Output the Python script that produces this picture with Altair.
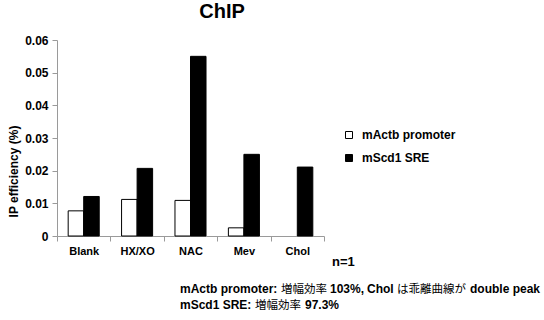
import altair as alt
import pandas as pd

categories = ["Blank", "HX/XO", "NAC", "Mev", "Chol"]
series = ["mActb promoter", "mScd1 SRE"]
actb_values = [0.0077, 0.0112, 0.0109, 0.0025, None]
scd1_values = [0.0121, 0.0207, 0.0550, 0.0250, 0.0211]
y_ticks = [0, 0.01, 0.02, 0.03, 0.04, 0.05, 0.06]

rows = []
for c, a, s in zip(categories, actb_values, scd1_values):
    rows.append({"category": c, "series": series[0], "value": a})
    rows.append({"category": c, "series": series[1], "value": s})
df = pd.DataFrame(rows)

LATIN = "Liberation Sans"
CJK = "Noto Sans CJK JP"
AXIS_GREY = "#9a9a9a"

bars = alt.Chart(df).mark_bar(stroke="black", strokeWidth=1).encode(
    x=alt.X(
        "category:N",
        sort=categories,
        scale=alt.Scale(paddingInner=0, paddingOuter=0),
        axis=alt.Axis(
            title=None, labelAngle=0, tickBand="extent", tickSize=5,
            domainColor=AXIS_GREY, tickColor=AXIS_GREY,
            labelFont=LATIN, labelFontSize=11, labelFontWeight="bold",
            labelColor="black", labelPadding=4,
        ),
    ),
    xOffset=alt.XOffset(
        "series:N", sort=series,
        scale=alt.Scale(paddingInner=0, paddingOuter=0.72),
    ),
    y=alt.Y(
        "value:Q",
        scale=alt.Scale(domain=[0, 0.06], nice=False),
        axis=alt.Axis(
            values=y_ticks, grid=False, tickSize=5,
            domainColor=AXIS_GREY, tickColor=AXIS_GREY,
            labelExpr="datum.value == 0 ? '0' : format(datum.value, '.2f')",
            labelFont=LATIN, labelFontSize=12, labelFontWeight="bold",
            labelColor="black", labelPadding=4,
            title="IP efficiency (%)", titleFont=LATIN, titleFontSize=12,
            titleFontWeight="bold", titleColor="black",
            titleX=-40, titleY=131, titleBaseline="alphabetic", titleAlign="center",
            titleAngle=270,
        ),
    ),
    color=alt.Color(
        "series:N", sort=series,
        scale=alt.Scale(domain=series, range=["white", "black"]),
        legend=alt.Legend(
            title=None, orient="none", legendX=286, legendY=89, padding=0,
            symbolType="square", symbolSize=49, symbolStrokeColor="black",
            symbolStrokeWidth=1, labelFont=LATIN, labelFontSize=12,
            labelFontWeight="bold", labelColor="black", labelOffset=7,
            rowPadding=11,
        ),
    ),
)


def seg(text, x, y, size, weight, font, align="left"):
    return alt.Chart(pd.DataFrame({"t": [text]})).mark_text(
        align=align, baseline="alphabetic", font=font, fontSize=size,
        fontWeight=weight, color="black",
    ).encode(text="t:N", x=alt.value(x), y=alt.value(y))


texts = [
    seg("ChIP", 165, -22, 20, "bold", LATIN, align="center"),
    seg("n=1", 275, 226, 13, "bold", LATIN),
    seg("mActb promoter:", 123, 253, 12, "bold", LATIN),
    seg("増幅効率", 224, 253, 11.5, "normal", CJK),
    seg("103%,", 273, 253, 12, "bold", LATIN),
    seg("Chol", 310, 253, 12, "bold", LATIN),
    seg("は乖離曲線が", 340, 253, 11.5, "normal", CJK),
    seg("double peak", 413, 253, 12, "bold", LATIN),
    seg("mScd1 SRE:", 123, 269, 12, "bold", LATIN),
    seg("増幅効率", 198, 269, 11.5, "normal", CJK),
    seg("97.3%", 248, 269, 12, "bold", LATIN),
]

chart = alt.layer(bars, *texts).properties(
    width=267,
    height=196,
    padding={"left": 57, "top": 40, "right": 220, "bottom": 84},
    autosize=alt.AutoSizeParams(type="none"),
).configure_view(stroke=None)

chart.save("out.html", embed_options={"renderer": "svg", "actions": False})
